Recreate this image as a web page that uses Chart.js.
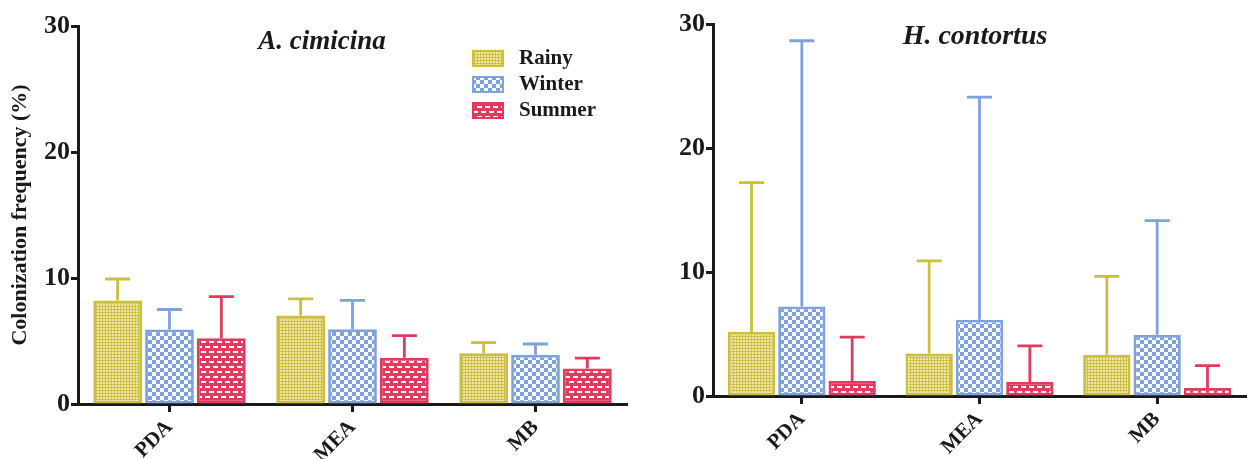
<!DOCTYPE html>
<html>
<head>
<meta charset="utf-8">
<script src="https://cdn.jsdelivr.net/npm/chart.js@4.4.1/dist/chart.umd.min.js"></script>
<style>
  body { margin: 0; background: #fff; }
  #wrap { position: relative; width: 1247px; height: 459px; }
  #left { position: absolute; left: 0; top: 0; }
  #right { position: absolute; left: 640px; top: 0; }
</style>
</head>
<body>
<div id="wrap">
  <canvas id="left" width="640" height="459"></canvas>
  <canvas id="right" width="607" height="459"></canvas>
</div>
<script>
const media = ['PDA', 'MEA', 'MB'];
const seasons = ['Rainy', 'Winter', 'Summer'];
const yTicks = [0, 10, 20, 30];

// A. cimicina : mean and SD per season
const cimRainy = [8.22, 7.03, 4.03];
const cimWinter = [5.92, 5.94, 3.90];
const cimSummer = [5.22, 3.68, 2.82];
const cimRainySd = [1.70, 1.32, 0.84];
const cimWinterSd = [1.58, 2.28, 0.86];
const cimSummerSd = [3.30, 1.75, 0.82];

// H. contortus : mean and SD per season
const conRainy = [5.17, 3.42, 3.32];
const conWinter = [7.22, 6.15, 4.93];
const conSummer = [1.21, 1.13, 0.65];
const conRainySd = [12.03, 7.48, 6.33];
const conWinterSd = [21.43, 17.95, 9.22];
const conSummerSd = [3.54, 2.92, 1.80];

const serif = "'Liberation Serif', 'Times New Roman', serif";
const ink = '#1a1a1a';
const yellow = 'rgb(204,190,62)';
const blue = 'rgb(126,162,222)';
const red = 'rgb(226,58,92)';

// fill patterns
function makeTile(w, h, draw) {
  const c = document.createElement('canvas');
  c.width = w; c.height = h;
  draw(c.getContext('2d'));
  return c.getContext('2d').createPattern(c, 'repeat');
}

const rainyFill = makeTile(3, 3, g => {
  g.fillStyle = 'rgb(240,232,165)';
  g.fillRect(0, 0, 3, 3);
  g.fillStyle = 'rgb(204,190,72)';
  g.fillRect(0, 0, 3, 1);
  g.fillRect(0, 0, 1, 3);
});

const winterFill = makeTile(8, 8, g => {
  g.fillStyle = '#fff';
  g.fillRect(0, 0, 8, 8);
  g.fillStyle = blue;
  g.fillRect(0, 0, 4, 4);
  g.fillRect(4, 4, 4, 4);
});

const summerFill = makeTile(8, 10, g => {
  g.fillStyle = red;
  g.fillRect(0, 0, 8, 10);
  g.fillStyle = '#fff';
  g.fillRect(1, 1, 5, 2);
  g.fillRect(5, 6, 5, 2);
  g.fillRect(-3, 6, 5, 2);
});

const fills = [rainyFill, winterFill, summerFill];
const lines = [yellow, blue, red];

function makeSets(means, sds) {
  return seasons.map((s, i) => ({
    label: s,
    data: means[i],
    sd: sds[i],
    backgroundColor: fills[i],
    borderColor: lines[i],
    borderWidth: 2.8,
    borderSkipped: false
  }));
}

// one-sided error bars drawn with the y scale
const errorBars = {
  id: 'errorBars',
  afterDatasetsDraw(chart, args, opts) {
    const ctx = chart.ctx;
    const y = chart.scales.y;
    chart.data.datasets.forEach((ds, i) => {
      chart.getDatasetMeta(i).data.forEach((bar, j) => {
        const top = y.getPixelForValue(ds.data[j] + ds.sd[j]);
        ctx.save();
        ctx.strokeStyle = ds.borderColor;
        ctx.lineWidth = 2.8;
        ctx.beginPath();
        ctx.moveTo(bar.x, bar.y);
        ctx.lineTo(bar.x, top);
        ctx.moveTo(bar.x - opts.cap / 2, top);
        ctx.lineTo(bar.x + opts.cap / 2, top);
        ctx.stroke();
        ctx.restore();
      });
    });
  }
};

const panelTitle = {
  id: 'panelTitle',
  afterDraw(chart, args, opts) {
    const ctx = chart.ctx;
    ctx.save();
    ctx.font = 'italic bold ' + opts.size + 'px ' + serif;
    ctx.fillStyle = ink;
    ctx.textAlign = 'center';
    ctx.textBaseline = 'middle';
    ctx.fillText(opts.text, opts.x, opts.y);
    ctx.restore();
  }
};

const boxLegend = {
  id: 'boxLegend',
  afterDraw(chart, args, opts) {
    if (!opts.show) return;
    const ctx = chart.ctx;
    ctx.save();
    ctx.font = 'bold 21px ' + serif;
    ctx.textBaseline = 'middle';
    chart.data.datasets.forEach((ds, i) => {
      const top = opts.y + i * 26;
      ctx.fillStyle = ds.backgroundColor;
      ctx.fillRect(opts.x, top, 32, 17);
      ctx.strokeStyle = ds.borderColor;
      ctx.lineWidth = 2;
      ctx.strokeRect(opts.x + 1, top + 1, 30, 15);
      ctx.fillStyle = ink;
      ctx.fillText(ds.label, opts.x + 47, top + 9);
    });
    ctx.restore();
  }
};

function makeChart(id, datasets, cfg) {
  return new Chart(document.getElementById(id), {
    type: 'bar',
    data: { labels: media, datasets: datasets },
    plugins: [errorBars, panelTitle, boxLegend],
    options: {
      responsive: false,
      animation: false,
      devicePixelRatio: 1,
      layout: { padding: { top: cfg.top, right: cfg.right, left: 0, bottom: 0 } },
      datasets: { bar: { categoryPercentage: 0.85, barPercentage: 0.94 } },
      scales: {
        x: {
          afterFit: s => { s.height = cfg.xHeight; },
          border: { color: ink, width: 3 },
          grid: { offset: false, drawOnChartArea: false, tickLength: 8, tickWidth: 3, tickColor: ink },
          ticks: { color: ink, minRotation: 45, maxRotation: 45, padding: 3, font: { family: serif, size: 21, weight: 'bold' } }
        },
        y: {
          min: 0,
          max: 30,
          afterFit: s => { s.width = cfg.yWidth; },
          afterBuildTicks: s => { s.ticks = yTicks.map(v => ({ value: v })); },
          border: { color: ink, width: 3 },
          grid: { drawOnChartArea: false, tickLength: 7, tickWidth: 3, tickColor: ink },
          ticks: { color: ink, padding: 1, font: { family: serif, size: 26, weight: 'bold' } },
          title: {
            display: cfg.yTitle,
            text: 'Colonization frequency (%)',
            color: ink,
            padding: { top: 7, bottom: 0 },
            font: { family: serif, size: 22, weight: 'bold' }
          }
        }
      },
      plugins: {
        legend: { display: false },
        tooltip: { enabled: false },
        errorBars: { cap: 25 },
        panelTitle: cfg.title,
        boxLegend: cfg.legend
      }
    }
  });
}

makeChart('left',
  makeSets([cimRainy, cimWinter, cimSummer], [cimRainySd, cimWinterSd, cimSummerSd]),
  { top: 26, right: 13, xHeight: 55, yWidth: 78, yTitle: true,
    title: { text: 'A. cimicina', x: 322, y: 42, size: 27 },
    legend: { show: true, x: 472, y: 50 } });

makeChart('right',
  makeSets([conRainy, conWinter, conSummer], [conRainySd, conWinterSd, conSummerSd]),
  { top: 24, right: 1, xHeight: 63, yWidth: 73, yTitle: false,
    title: { text: 'H. contortus', x: 335, y: 37, size: 28 },
    legend: { show: false } });
</script>
</body>
</html>
